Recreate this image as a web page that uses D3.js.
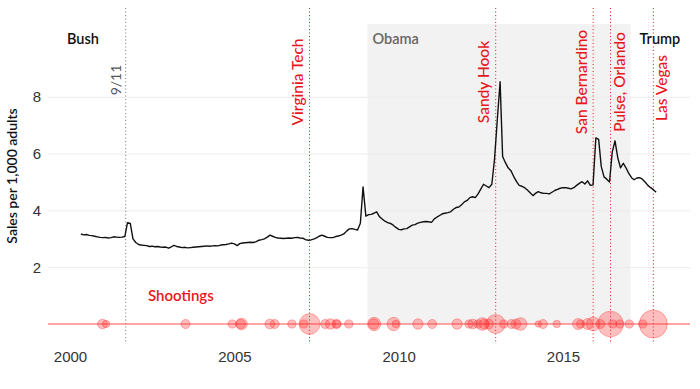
<!DOCTYPE html>
<html>
<head>
<meta charset="utf-8">
<script src="https://cdn.jsdelivr.net/npm/d3@7"></script>
<style>
  body { margin: 0; background: #fff; }
  svg { font-family: "Lato", "Liberation Sans", sans-serif; }
  .axis text { fill: #333; font-size: 15px; }
  .axis .domain { display: none; }
  .y_axis line { stroke: #ececec; }
</style>
</head>
<body>
<svg id="chart" width="700" height="389"></svg>
<script>
// monthly gun sales per 1,000 adults, from May 2000
const salesStart = "2000-05-01";
const sales = [
  3.17, 3.14, 3.15, 3.12, 3.11, 3.09, 3.07, 3.05,
  3.04, 3.05, 3.03, 3.04, 3.07, 3.06, 3.05, 3.06, 3.08, 3.57, 3.54, 3.0,
  2.87, 2.8, 2.78, 2.77, 2.76, 2.73, 2.74, 2.72, 2.73, 2.71, 2.7, 2.71,
  2.67, 2.72, 2.77, 2.73, 2.71, 2.69, 2.7, 2.68, 2.69, 2.7, 2.71, 2.72,
  2.73, 2.74, 2.75, 2.74, 2.75, 2.76, 2.75, 2.78, 2.79, 2.8, 2.82, 2.85,
  2.82, 2.76, 2.83, 2.85, 2.86, 2.87, 2.88, 2.87, 2.9, 2.95, 2.97, 3.0,
  3.06, 3.13, 3.09, 3.05, 3.03, 3.02, 3.01, 3.02, 3.03, 3.02, 3.04, 3.05,
  3.03, 3.02, 2.97, 2.95, 2.96, 2.99, 3.03, 3.09, 3.13, 3.09, 3.05, 3.04,
  3.04, 3.08, 3.1, 3.13, 3.17, 3.27, 3.35, 3.36, 3.33, 3.31, 3.55, 4.83,
  3.8, 3.85, 3.86, 3.9, 3.95, 3.78, 3.7, 3.62, 3.57, 3.54, 3.48, 3.4,
  3.33, 3.32, 3.35, 3.36, 3.42, 3.48, 3.5, 3.55, 3.58, 3.6, 3.61, 3.6,
  3.58, 3.7, 3.76, 3.82, 3.88, 3.9, 3.92, 3.95, 4.04, 4.1, 4.12, 4.2,
  4.3, 4.35, 4.45, 4.48, 4.45, 4.58, 4.75, 4.92, 4.86, 4.8, 4.92, 5.8,
  7.2, 8.53, 5.9, 5.68, 5.5, 5.4, 5.2, 5.02, 4.88, 4.85, 4.8, 4.72,
  4.62, 4.52, 4.6, 4.66, 4.62, 4.6, 4.6, 4.58, 4.64, 4.7, 4.74, 4.78,
  4.8, 4.8, 4.78, 4.76, 4.8, 4.88, 4.95, 5.01, 4.93, 5.04, 4.88, 4.9,
  6.55, 6.5, 5.55, 5.18, 5.1, 5.0, 6.05, 6.45, 5.85, 5.5, 5.66, 5.5,
  5.3, 5.15, 5.08, 5.14, 5.15, 5.1, 5.0, 4.88, 4.8, 4.73, 4.64
];

const eventNames = ["9/11", "Virginia Tech", "Sandy Hook", "San Bernardino", "Pulse, Orlando", "Las Vegas"];
const eventDates = ["2001-09-11", "2007-04-16", "2012-12-14", "2015-12-02", "2016-06-12", "2017-10-01"];

const presidents = ["Bush", "Obama", "Trump"];
const termStarts = ["2001-01-20", "2009-01-20", "2017-01-20"];

// mass shootings: date, people killed
const shootingDates = [
  "2000-12-26", "2001-02-05", "2003-07-08", "2004-12-08", "2005-03-12", "2005-03-21",
  "2006-01-30", "2006-03-25", "2006-10-02", "2007-02-12", "2007-04-16", "2007-10-07",
  "2007-12-05", "2008-02-07", "2008-02-14", "2008-06-25", "2009-03-29", "2009-04-03",
  "2009-11-05", "2009-11-29", "2010-08-03", "2011-01-08", "2011-10-12", "2012-02-22",
  "2012-04-02", "2012-05-30", "2012-07-20", "2012-08-05", "2012-09-27", "2012-12-14",
  "2013-03-13", "2013-06-07", "2013-07-26", "2013-09-16", "2014-04-02", "2014-05-23",
  "2014-10-24", "2015-06-17", "2015-07-16", "2015-10-01", "2015-12-02", "2016-02-20",
  "2016-06-12", "2016-07-07", "2016-09-23", "2017-01-06", "2017-06-05", "2017-10-01"
];
const shootingKilled = [
  7, 4, 6, 5, 7, 10,
  7, 6, 5, 5, 32, 6,
  8, 6, 5, 5, 8, 13,
  13, 4, 8, 6, 8, 5,
  7, 5, 12, 7, 7, 27,
  5, 6, 7, 12, 3, 6,
  4, 9, 5, 9, 14, 6,
  49, 5, 5, 5, 5, 58
];

const yTicks = [2, 4, 6, 8];
const xTicks = [2000, 2005, 2010, 2015];

const red = "#e8171d";
const parseDate = d3.timeParse("%Y-%m-%d");

let svg = d3.select("#chart");
let left = 48, right = 690;

let x = d3.scaleTime()
  .domain([new Date(2000, 0, 1), new Date(2015, 0, 1)])
  .range([70, 563]);
let y = d3.scaleLinear().domain([0, 8]).range([324, 96.8]);
let r = d3.scaleSqrt().domain([0, 58]).range([0, 14]);

let start = parseDate(salesStart);
let lineData = sales.map(function (v, i) {
  return { date: d3.timeMonth.offset(start, i), value: v };
});

// Obama shading
svg.append("rect")
  .attr("x", x(parseDate(termStarts[1])))
  .attr("y", 24)
  .attr("width", x(parseDate(termStarts[2])) - x(parseDate(termStarts[1])))
  .attr("height", y(0) - 24)
  .attr("fill", "#f2f2f2");

// y grid + labels
svg.append("g")
  .attr("class", "axis y_axis")
  .attr("transform", "translate(" + left + ",0)")
  .call(d3.axisLeft(y).tickValues(yTicks).tickSize(-(right - left)).tickPadding(7));

svg.append("g")
  .attr("class", "axis x_axis")
  .attr("transform", "translate(0,340)")
  .call(d3.axisBottom(x)
    .tickValues(xTicks.map(function (d) { return new Date(d, 0, 1); }))
    .tickFormat(d3.timeFormat("%Y"))
    .tickSize(0)
    .tickPadding(11));

svg.append("text")
  .attr("transform", "translate(17,176) rotate(-90)")
  .attr("text-anchor", "middle")
  .attr("font-size", 14)
  .attr("font-weight", 600)
  .attr("fill", "#111")
  .text("Sales per 1,000 adults");

// event lines
eventNames.forEach(function (name, i) {
  let ex = x(parseDate(eventDates[i]));
  let isTerror = i === 0;
  svg.append("line")
    .attr("x1", ex).attr("x2", ex)
    .attr("y1", 8).attr("y2", 343)
    .attr("stroke", isTerror ? "#777" : red)
    .attr("stroke-width", 1)
    .attr("stroke-dasharray", "1,2.5");
});

// zero line + shootings
svg.append("line")
  .attr("x1", left).attr("x2", right)
  .attr("y1", y(0)).attr("y2", y(0))
  .attr("stroke", "#ff4d4d")
  .attr("stroke-width", 1);

svg.selectAll(".shot")
  .data(shootingDates)
  .enter()
  .append("circle")
  .attr("class", "shot")
  .attr("cx", function (d) { return x(parseDate(d)); })
  .attr("cy", y(0))
  .attr("r", function (d, i) { return r(shootingKilled[i]); })
  .attr("fill", "#ff2b2b")
  .attr("fill-opacity", 0.3)
  .attr("stroke", "#ff2b2b")
  .attr("stroke-opacity", 0.35);

svg.append("text")
  .attr("x", 148).attr("y", 301)
  .attr("font-size", 15)
  .attr("font-weight", 600)
  .attr("fill", red)
  .text("Shootings");

// sales line
svg.append("path")
  .datum(lineData)
  .attr("fill", "none")
  .attr("stroke", "#111")
  .attr("stroke-width", 1.4)
  .attr("stroke-linejoin", "round")
  .attr("d", d3.line()
    .x(function (d) { return x(d.date); })
    .y(function (d) { return y(d.value); }));

// event labels
eventNames.forEach(function (name, i) {
  let ex = x(parseDate(eventDates[i]));
  let onRight = name === "Pulse, Orlando" || name === "Las Vegas";
  let bx = onRight ? ex + 14 : ex - (i === 0 ? 4.5 : 6.5);
  let cy = i === 0 ? 80 : (name === "Las Vegas" ? 88 : 82);
  svg.append("text")
    .attr("transform", "translate(" + bx + "," + cy + ") rotate(-90)")
    .attr("text-anchor", "middle")
    .attr("font-size", i === 0 ? 14 : 15.5)
    .attr("font-weight", i === 0 ? 400 : 500)
    .attr("fill", i === 0 ? "#555" : red)
    .text(name);
});

// president labels
presidents.forEach(function (name, i) {
  let px = i === 0 ? 67 : x(parseDate(termStarts[i])) + (i === 1 ? 5 : 9);
  svg.append("text")
    .attr("x", px).attr("y", 44)
    .attr("font-size", 14.5)
    .attr("font-weight", 600)
    .attr("fill", i === 1 ? "#666" : "#111")
    .text(name);
});
</script>
</body>
</html>
